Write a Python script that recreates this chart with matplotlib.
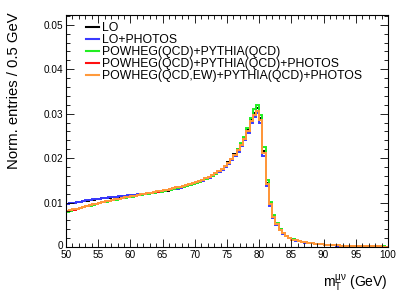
import numpy as np
import matplotlib
matplotlib.use("Agg")
import matplotlib.pyplot as plt
import matplotlib.transforms as mtrans

plt.rcParams['font.family'] = ['Liberation Sans', 'DejaVu Sans']
plt.rcParams['mathtext.fontset'] = 'custom'
plt.rcParams['mathtext.rm'] = 'Liberation Sans'
plt.rcParams['mathtext.it'] = 'Liberation Sans'

# binning: 0.5 GeV from 50 to 100
x_lo, x_hi, bin_w = 50, 100, 0.5

lo = [0.00970, 0.00982, 0.00994, 0.01006, 0.01018, 0.01030, 0.01042, 0.01053, 0.01064, 0.01075,
      0.01085, 0.01094, 0.01103, 0.01111, 0.01119, 0.01127, 0.01135, 0.01142, 0.01149, 0.01155,
      0.01160, 0.01168, 0.01177, 0.01186, 0.01195, 0.01204, 0.01214, 0.01224, 0.01234, 0.01245,
      0.01257, 0.01270, 0.01284, 0.01299, 0.01315, 0.01332, 0.01351, 0.01371, 0.01392, 0.01415,
      0.01441, 0.01468, 0.01498, 0.01531, 0.01567, 0.01608, 0.01654, 0.01706, 0.01764, 0.01830,
      0.01905, 0.01990, 0.02085, 0.02195, 0.02320, 0.02460, 0.02640, 0.02860, 0.03020, 0.03120,
      0.02900, 0.02160, 0.01450, 0.00990, 0.00690, 0.00525, 0.00395, 0.00312, 0.00250, 0.00204,
      0.00170, 0.00149, 0.00132, 0.00117, 0.00104, 0.00093, 0.00083, 0.00074, 0.00066, 0.00059,
      0.00053, 0.00047, 0.00042, 0.00038, 0.00034, 0.00031, 0.00028, 0.00026, 0.00024, 0.00022,
      0.00020, 0.00018, 0.00017, 0.00016, 0.00015, 0.00014, 0.00013, 0.00012, 0.00011, 0.00010]

lo_photos = [0.00975, 0.00987, 0.00999, 0.01011, 0.01023, 0.01035, 0.01047, 0.01058, 0.01069, 0.01080,
             0.01090, 0.01099, 0.01108, 0.01116, 0.01124, 0.01132, 0.01140, 0.01147, 0.01154, 0.01160,
             0.01166, 0.01174, 0.01182, 0.01190, 0.01199, 0.01208, 0.01217, 0.01227, 0.01237, 0.01248,
             0.01260, 0.01272, 0.01285, 0.01299, 0.01314, 0.01330, 0.01348, 0.01367, 0.01388, 0.01410,
             0.01434, 0.01460, 0.01489, 0.01520, 0.01554, 0.01592, 0.01635, 0.01684, 0.01738, 0.01800,
             0.01870, 0.01950, 0.02040, 0.02145, 0.02265, 0.02400, 0.02570, 0.02780, 0.02920, 0.03020,
             0.02790, 0.02050, 0.01370, 0.00930, 0.00650, 0.00495, 0.00375, 0.00296, 0.00238, 0.00194,
             0.00162, 0.00142, 0.00126, 0.00112, 0.00100, 0.00089, 0.00080, 0.00071, 0.00064, 0.00057,
             0.00051, 0.00046, 0.00041, 0.00037, 0.00033, 0.00030, 0.00027, 0.00025, 0.00023, 0.00021,
             0.00019, 0.00018, 0.00017, 0.00016, 0.00015, 0.00014, 0.00013, 0.00012, 0.00011, 0.00010]

powheg_qcd = [0.00795, 0.00815, 0.00835, 0.00855, 0.00875, 0.00895, 0.00914, 0.00932, 0.00950, 0.00968,
              0.00985, 0.01002, 0.01018, 0.01034, 0.01050, 0.01065, 0.01080, 0.01094, 0.01108, 0.01121,
              0.01134, 0.01147, 0.01160, 0.01173, 0.01185, 0.01197, 0.01210, 0.01222, 0.01235, 0.01248,
              0.01262, 0.01276, 0.01291, 0.01306, 0.01322, 0.01340, 0.01359, 0.01379, 0.01400, 0.01423,
              0.01447, 0.01473, 0.01502, 0.01533, 0.01568, 0.01607, 0.01652, 0.01702, 0.01758, 0.01822,
              0.01895, 0.01980, 0.02080, 0.02195, 0.02330, 0.02480, 0.02680, 0.02900, 0.03100, 0.03200,
              0.02960, 0.02240, 0.01500, 0.01020, 0.00710, 0.00540, 0.00405, 0.00320, 0.00258, 0.00210,
              0.00174, 0.00152, 0.00134, 0.00119, 0.00106, 0.00095, 0.00085, 0.00076, 0.00068, 0.00061,
              0.00054, 0.00048, 0.00043, 0.00039, 0.00035, 0.00032, 0.00029, 0.00027, 0.00025, 0.00023,
              0.00021, 0.00019, 0.00018, 0.00017, 0.00016, 0.00015, 0.00014, 0.00013, 0.00012, 0.00011]

powheg_qcd_photos = [0.00803, 0.00823, 0.00843, 0.00863, 0.00883, 0.00903, 0.00923, 0.00941, 0.00959, 0.00977,
                     0.00994, 0.01011, 0.01027, 0.01043, 0.01059, 0.01074, 0.01089, 0.01103, 0.01117, 0.01130,
                     0.01143, 0.01156, 0.01169, 0.01182, 0.01195, 0.01208, 0.01221, 0.01234, 0.01248, 0.01262,
                     0.01276, 0.01291, 0.01306, 0.01322, 0.01339, 0.01357, 0.01376, 0.01396, 0.01417, 0.01439,
                     0.01463, 0.01489, 0.01517, 0.01547, 0.01581, 0.01619, 0.01661, 0.01709, 0.01763, 0.01825,
                     0.01896, 0.01977, 0.02069, 0.02174, 0.02294, 0.02428, 0.02618, 0.02838, 0.02978, 0.03065,
                     0.02855, 0.02115, 0.01418, 0.00968, 0.00679, 0.00514, 0.00389, 0.00307, 0.00247, 0.00201,
                     0.00168, 0.00148, 0.00131, 0.00116, 0.00103, 0.00092, 0.00082, 0.00073, 0.00065, 0.00058,
                     0.00052, 0.00047, 0.00042, 0.00038, 0.00034, 0.00031, 0.00028, 0.00026, 0.00024, 0.00022,
                     0.00020, 0.00018, 0.00017, 0.00016, 0.00015, 0.00014, 0.00013, 0.00012, 0.00011, 0.00010]

powheg_ew_photos = [0.00805, 0.00825, 0.00845, 0.00865, 0.00885, 0.00905, 0.00925, 0.00942, 0.00960, 0.00978,
                    0.00995, 0.01012, 0.01028, 0.01044, 0.01060, 0.01075, 0.01090, 0.01104, 0.01118, 0.01131,
                    0.01144, 0.01157, 0.01170, 0.01183, 0.01196, 0.01209, 0.01222, 0.01235, 0.01249, 0.01263,
                    0.01277, 0.01292, 0.01307, 0.01323, 0.01340, 0.01358, 0.01377, 0.01397, 0.01418, 0.01440,
                    0.01464, 0.01490, 0.01518, 0.01548, 0.01582, 0.01620, 0.01662, 0.01710, 0.01764, 0.01826,
                    0.01897, 0.01978, 0.02070, 0.02175, 0.02295, 0.02430, 0.02620, 0.02840, 0.02980, 0.03070,
                    0.02860, 0.02120, 0.01420, 0.00970, 0.00680, 0.00515, 0.00390, 0.00308, 0.00248, 0.00202,
                    0.00168, 0.00148, 0.00131, 0.00116, 0.00103, 0.00092, 0.00082, 0.00073, 0.00065, 0.00058,
                    0.00052, 0.00047, 0.00042, 0.00038, 0.00034, 0.00031, 0.00028, 0.00026, 0.00024, 0.00022,
                    0.00020, 0.00018, 0.00017, 0.00016, 0.00015, 0.00014, 0.00013, 0.00012, 0.00011, 0.00010]

labels = ['LO', 'LO+PHOTOS', 'POWHEG(QCD)+PYTHIA(QCD)',
          'POWHEG(QCD)+PYTHIA(QCD)+PHOTOS', 'POWHEG(QCD,EW)+PYTHIA(QCD)+PHOTOS']
colors = ['black', '#3a3aff', '#22ee22', '#ff1010', '#ff9a3c']
series = [lo, lo_photos, powheg_qcd, powheg_qcd_photos, powheg_ew_photos]

edges = np.arange(x_lo, x_hi + bin_w / 2, bin_w)

fig = plt.figure(figsize=(4.09, 2.94), dpi=100)
ax = fig.add_axes([66/409, 1-247/294, 322/409, 232/294])

for vals, col, lab in zip(series, colors, labels):
    ax.stairs(vals, edges, color=col, lw=1.4, label=lab)

ax.set_xlim(50, 100)
ax.set_ylim(0, 0.0522)
ax.set_xticks(np.arange(50, 101, 5))
ax.set_xticks(np.arange(50, 101, 1), minor=True)
ax.set_yticks([0, 0.01, 0.02, 0.03, 0.04, 0.05])
ax.set_yticklabels(['0', '0.01', '0.02', '0.03', '0.04', '0.05'])
ax.set_yticks(np.arange(0, 0.0521, 0.002), minor=True)
ax.tick_params(which='both', direction='in', top=True, right=True, labelsize=7.2, pad=2)
ax.tick_params(which='major', length=5.5, width=0.6)
ax.tick_params(which='minor', length=2.8, width=0.6)
for s in ax.spines.values():
    s.set_linewidth(0.8)

# nudge the "0" label up a little so it does not sit on the "50"
zero_lab = ax.get_yticklabels()[0]
zero_lab.set_transform(zero_lab.get_transform() +
                       mtrans.ScaledTranslation(0, 2/100, fig.dpi_scale_trans))

leg = ax.legend(loc='upper left', bbox_to_anchor=(0.062, 0.968), frameon=False,
                fontsize=8.8, handlelength=1.1, handletextpad=0.25,
                labelspacing=0.0, borderaxespad=0, borderpad=0)
for h in leg.get_lines():
    h.set_linewidth(1.5)

fig.text(14/409, 1-12/294, 'Norm. entries / 0.5 GeV', rotation=90,
         ha='center', va='top', fontsize=10.7)
fig.text(388/409, 1-283/294, r'$\mathrm{m}_{\mathrm{T}}^{\mu\nu}$ (GeV)',
         ha='right', va='center', fontsize=10)

fig.savefig('out.png', dpi=100)
